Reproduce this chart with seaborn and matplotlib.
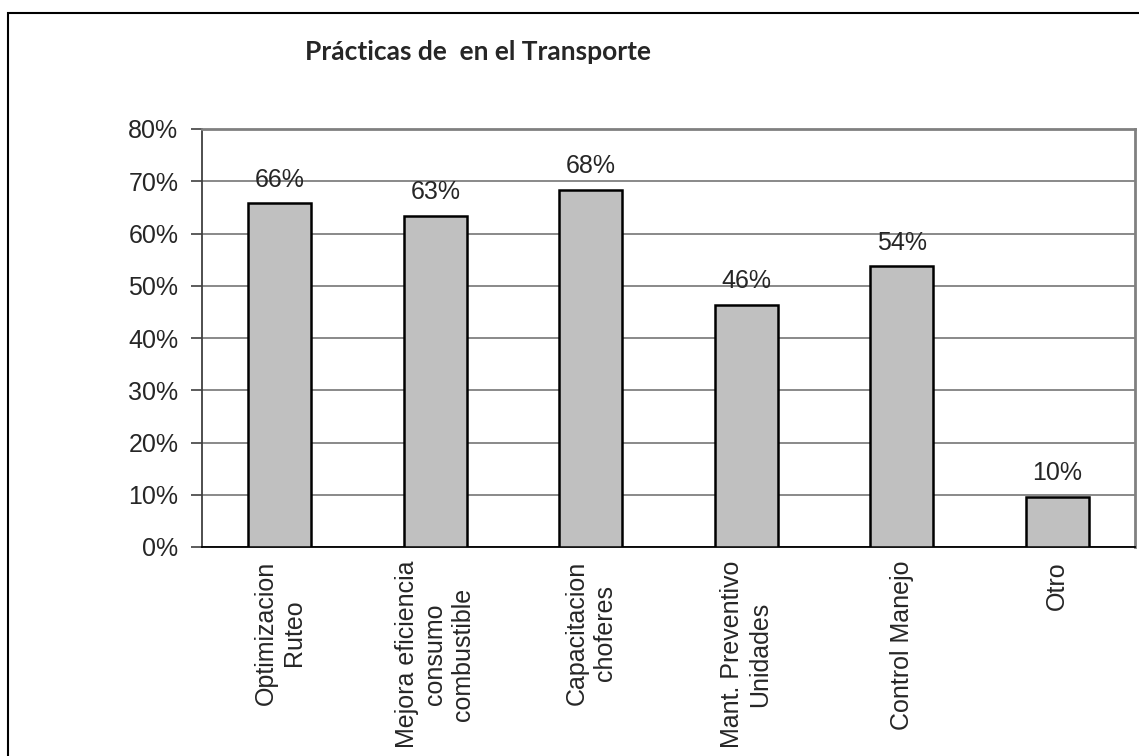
import matplotlib
matplotlib.use("Agg")
import matplotlib.pyplot as plt
import matplotlib.patches as mpatches
from matplotlib.ticker import PercentFormatter, FixedLocator
import seaborn as sns

# data
categories = ["Optimizacion\nRuteo", "Mejora eficiencia\nconsumo\ncombustible",
              "Capacitacion\nchoferes", "Mant. Preventivo\nUnidades",
              "Control Manejo", "Otro"]
values = [0.658, 0.634, 0.683, 0.464, 0.537, 0.096]
labels = ["66%", "63%", "68%", "46%", "54%", "10%"]
title = "Prácticas de  en el Transporte"

sns.set_style("white")
plt.rcParams['font.family'] = ['Liberation Sans', 'DejaVu Sans']

fig = plt.figure(figsize=(11.39, 7.56), dpi=100)
W, H = 1139, 756
ax = fig.add_axes([202 / W, 1 - 547 / H, (1135 - 202) / W, (547 - 129) / H])

sns.barplot(x=categories, y=values, ax=ax, color="#c0c0c0", saturation=1,
            width=0.405, edgecolor="black", linewidth=1.8, zorder=3)

ax.set_xlim(-0.5, len(categories) - 0.5)
ax.set_ylim(0, 0.8)
ax.set_yticks([i / 10 for i in range(9)])
ax.yaxis.set_major_formatter(PercentFormatter(1.0, decimals=0))
ax.grid(axis="y", color="#808080", linewidth=1.3, zorder=0)
ax.set_axisbelow(True)

# category boundary ticks
ax.xaxis.set_minor_locator(FixedLocator([i - 0.5 for i in range(len(categories) + 1)]))
ax.tick_params(axis="x", which="major", length=0, pad=10, labelsize=18, rotation=90)
ax.tick_params(axis="x", which="minor", length=8, width=1.2, color="#404040", direction="out")
ax.tick_params(axis="y", length=8, width=1.2, color="#404040", direction="out",
               labelsize=18, pad=9, left=True)
for lab in ax.get_xticklabels():
    lab.set_multialignment("center")
    lab.set_verticalalignment("top")

for side in ["top", "right"]:
    ax.spines[side].set_color("#808080")
    ax.spines[side].set_linewidth(2)
ax.spines["left"].set_color("#404040")
ax.spines["left"].set_linewidth(1.3)
ax.spines["bottom"].set_color("black")
ax.spines["bottom"].set_linewidth(1.3)
ax.set_xlabel("")
ax.set_ylabel("")

for i, (v, t) in enumerate(zip(values, labels)):
    ax.annotate(t, (i, v), xytext=(0, 12), textcoords="offset points",
                ha="center", va="baseline", fontsize=18, zorder=4)

fig.text(478 / W, 1 - 60 / H, title, ha="center", va="baseline",
         fontsize=19, fontweight="bold", family=["Lato", "DejaVu Sans"])

# outer chart border
border = mpatches.Rectangle((8 / W, -0.1), 1.2, 1.1 - 13 / H, transform=fig.transFigure,
                            fill=False, edgecolor="black", linewidth=1.5, clip_on=False)
fig.add_artist(border)

fig.savefig("out.png", dpi=100)
